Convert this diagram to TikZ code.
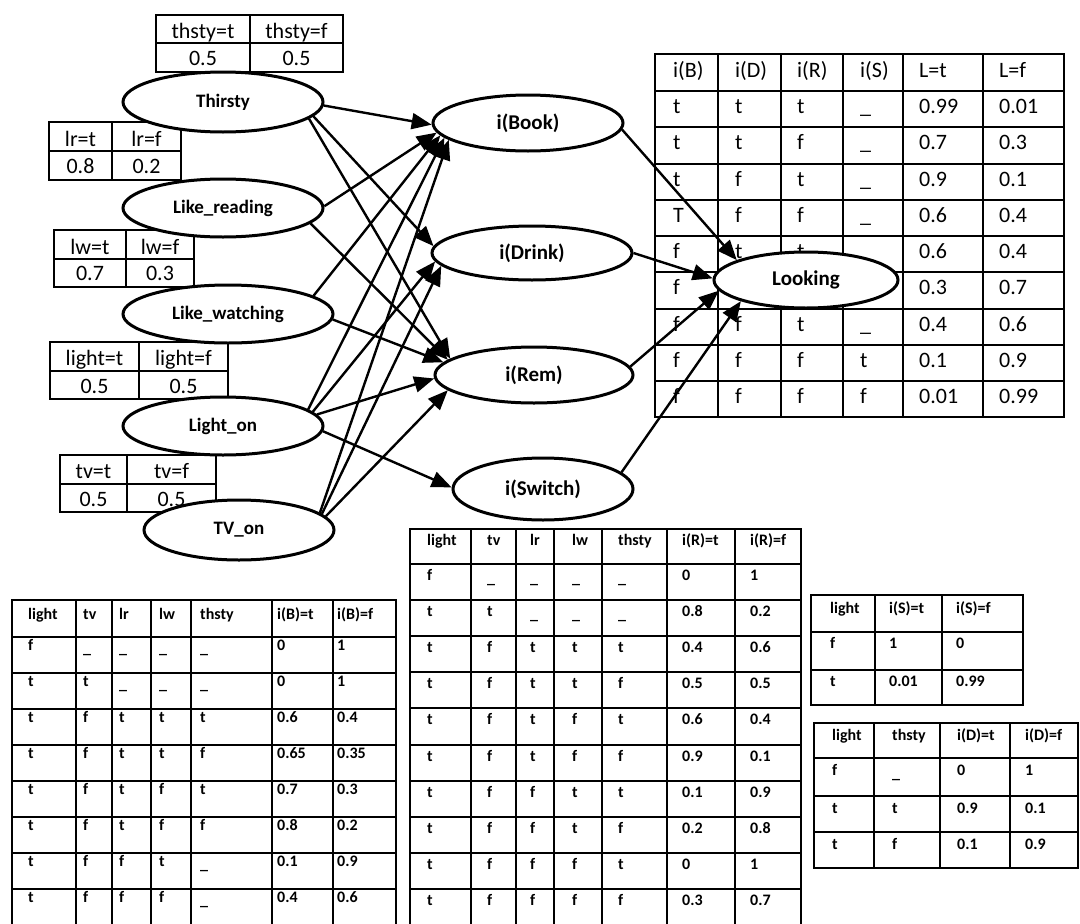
\documentclass[tikz,border=0pt]{standalone}
\usepackage{fontspec}
\setmainfont{Carlito}
\usetikzlibrary{shapes.geometric,arrows.meta}
\newcommand\dsh{\raisebox{-3pt}{\_}}
\newcommand\TR[5]{\foreach \tc [count=\k from 0] in {#5} {\pgfmathsetmacro\tx{{#3}[\k]}\node[#1] (#2-\k) at (\tx,#4) {\tc};}}
\newcommand\gridd[6]{\foreach \gx in {#1} {\draw[gl] (\gx,#5) -- (\gx,#6);}\foreach \gy in {#2} {\draw[gl] (#3,\gy) -- (#4,\gy);}}
\newcommand\LKrow[2]{\TR{ltxt}{lk#1}{673,735,797,860,919,999}{#1}{#2}}
\newcommand\Brow[2]{\TR{ctxt}{b#1}{28,83,119,159,200,277,337}{#1}{#2}}
\newcommand\Rrow[2]{\TR{ctxt}{r#1}{427,487,530,572,618,682,750}{#1}{#2}}
\newcommand\Srow[2]{\TR{ctxt}{s#1}{830,889,956}{#1}{#2}}
\newcommand\Drow[2]{\TR{ctxt}{d#1}{832,892,957,1025}{#1}{#2}}
\tikzset{
  gl/.style={line width=1.4pt, line cap=rect},
  ell/.style={ellipse, draw, line width=3pt, fill=white, inner sep=0pt},
  lefttxt/.style={font=\bfseries\fontsize{19}{22}\selectfont},
  midtxt/.style={font=\bfseries\fontsize{21}{24}\selectfont},
  arr/.style={line width=2.4pt, -{Triangle[length=20pt,width=16pt]}},
  ptxt/.style={font=\fontsize{22}{26}\selectfont, inner sep=0pt, anchor=base},
  ltxt/.style={font=\fontsize{22}{26}\selectfont, inner sep=0pt, anchor=base west},
  ctxt/.style={font=\bfseries\fontsize{16}{19}\selectfont, inner sep=0pt, anchor=base west},
}
\begin{document}
\begin{tikzpicture}[x=1pt,y=-1pt]
\useasboundingbox (0,0) rectangle (1080,924);
\fill[white] (0,0) rectangle (1080,924);
\clip (0,0) rectangle (1080,924);

% ---- prior tables (top left)
\gridd{156,250,343}{15,43,72}{156}{343}{15}{72}
\node[ptxt] (p1a) at (203,38) {thsty=t};
\node[ptxt] (p1b) at (296.5,38) {thsty=f};
\node[ptxt] (p1c) at (203,65) {0.5};
\node[ptxt] (p1d) at (296.5,65) {0.5};

\gridd{49,112,181}{122,151,180}{49}{181}{122}{180}
\node[ptxt] (p2a) at (80.5,146) {lr=t};
\node[ptxt] (p2b) at (146.5,146) {lr=f};
\node[ptxt] (p2c) at (80.5,173) {0.8};
\node[ptxt] (p2d) at (146.5,173) {0.2};

\gridd{54,126,194}{230,259,287}{54}{194}{230}{287}
\node[ptxt] (p3a) at (90,254) {lw=t};
\node[ptxt] (p3b) at (160,254) {lw=f};
\node[ptxt] (p3c) at (90,280) {0.7};
\node[ptxt] (p3d) at (160,280) {0.3};

\gridd{50,139,228}{342,371,399}{50}{228}{342}{399}
\node[ptxt] (p4a) at (94.5,365) {light=t};
\node[ptxt] (p4b) at (183.5,365) {light=f};
\node[ptxt] (p4c) at (94.5,393) {0.5};
\node[ptxt] (p4d) at (183.5,393) {0.5};

\gridd{60,127,216}{455,484,512}{60}{216}{455}{512}
\node[ptxt] (p5a) at (93.5,478) {tv=t};
\node[ptxt] (p5b) at (171.5,478) {tv=f};
\node[ptxt] (p5c) at (93.5,506) {0.5};
\node[ptxt] (p5d) at (171.5,506) {0.5};

% ---- Looking table
\gridd{655,718,781,843,903,983,1064}{54,91,127,164,200,236,272,309,345,381,417}{655}{1064}{54}{417}
\LKrow{77}{i(B),i(D),i(R),i(S),L=t,L=f}
\LKrow{113}{t,t,t,\_,0.99,0.01}
\LKrow{149}{t,t,f,\_,0.7,0.3}
\LKrow{186}{t,f,t,\_,0.9,0.1}
\LKrow{222}{T,f,f,\_,0.6,0.4}
\LKrow{258}{f,t,t,{},0.6,0.4}
\LKrow{294}{f,{},{},{},0.3,0.7}
\LKrow{331}{f,f,t,\_,0.4,0.6}
\LKrow{367}{f,f,f,t,0.1,0.9}
\LKrow{403}{f,f,f,f,0.01,0.99}

% ---- i(B) table
\gridd{12,76,112,151,191,272,333,396}{600,637,673,709,745,781,817,853,889}{12}{396}{600}{924}
\Brow{619}{light,tv,lr,lw,thsty,i(B)=t,i(B)=f}
\Brow{650}{f,\dsh,\dsh,\dsh,\dsh,0,1}
\Brow{686}{t,t,\dsh,\dsh,\dsh,0,1}
\Brow{722}{t,f,t,t,t,0.6,0.4}
\Brow{758}{t,f,t,t,f,0.65,0.35}
\Brow{794}{t,f,t,f,t,0.7,0.3}
\Brow{830}{t,f,t,f,f,0.8,0.2}
\Brow{866}{t,f,f,t,\dsh,0.1,0.9}
\Brow{902}{t,f,f,f,\dsh,0.4,0.6}

% ---- i(R) table
\gridd{410,471,516,554,602,667,735,801}{529,564,600,636,672,708,745,781,817,853,889}{410}{801}{529}{924}
\Rrow{545}{light,tv,lr,lw,thsty,i(R)=t,i(R)=f}
\Rrow{580}{f,\dsh,\dsh,\dsh,\dsh,0,1}
\Rrow{616}{t,t,\dsh,\dsh,\dsh,0.8,0.2}
\Rrow{652}{t,f,t,t,t,0.4,0.6}
\Rrow{688}{t,f,t,t,f,0.5,0.5}
\Rrow{724}{t,f,t,f,t,0.6,0.4}
\Rrow{761}{t,f,t,f,f,0.9,0.1}
\Rrow{797}{t,f,f,t,t,0.1,0.9}
\Rrow{833}{t,f,f,t,f,0.2,0.8}
\Rrow{869}{t,f,f,f,t,0,1}
\Rrow{905}{t,f,f,f,f,0.3,0.7}

% ---- i(S) table
\gridd{811,875,942,1023}{595,632,670,705}{811}{1023}{595}{705}
\Srow{613}{light,i(S)=t,i(S)=f}
\Srow{648}{f,1,0}
\Srow{686}{t,0.01,0.99}

% ---- i(D) table
\gridd{814,874,940,1010,1078}{723,758,796,832,868}{814}{1078}{723}{868}
\Drow{740}{light,thsty,i(D)=t,i(D)=f}
\Drow{775}{f,\dsh,0,1}
\Drow{813}{t,t,0.9,0.1}
\Drow{849}{t,f,0.1,0.9}

% ---- network nodes
\node[ell, lefttxt, minimum width=200pt, minimum height=60pt] (th) at (223,102) {Thirsty};
\node[ell, lefttxt, minimum width=200pt, minimum height=58pt] (lr) at (223,208) {Like\_reading};
\node[ell, lefttxt, minimum width=210pt, minimum height=58pt] (lw) at (228,314) {Like\_watching};
\node[ell, lefttxt, minimum width=200pt, minimum height=58pt] (lo) at (223,426) {Light\_on};
\node[ell, lefttxt, minimum width=190pt, minimum height=60pt] (tv) at (239,530) {TV\_on};
\node[ell, midtxt, minimum width=190pt, minimum height=56pt] (bk) at (528,123) {i(Book)};
\node[ell, midtxt, minimum width=200pt, minimum height=54pt] (dr) at (532,253) {i(Drink)};
\node[ell, midtxt, minimum width=198pt, minimum height=56pt] (rm) at (534,375) {i(Rem)};
\node[ell, midtxt, minimum width=180pt, minimum height=62pt] (sw) at (543,489) {i(Switch)};
\node[ell, midtxt, minimum width=184pt, minimum height=56pt] (lk) at (806,280) {Looking};

% ---- connectors
\draw[arr] (th.-2) -- (bk.181);
\draw[arr] (th.-9) -- (dr.176);
\draw[arr] (th.-11) -- (rm.169);
\draw[arr] (lr.1) -- (bk.186);
\draw[arr] (lr.-10) -- (rm.170);
\draw[arr] (lw.12) -- (bk.188);
\draw[arr] (lw.-3) -- (rm.172);
\draw[arr] (lo.11) -- (bk.190);
\draw[arr] (lo.9) -- (dr.185);
\draw[arr] (lo.7) -- (rm.182);
\draw[arr] (lo.-3) -- (sw.179);
\draw[arr] (tv.12) -- (bk.192);
\draw[arr] (tv.11) -- (dr.188);
\draw[arr] (tv.9) -- (rm.190);
\draw[arr] (bk.-4) -- (lk.164);
\draw[arr] (dr.0) -- (lk.179);
\draw[arr] (rm.5) -- (lk.187);
\draw[arr] (sw.12) -- (lk.198);
\end{tikzpicture}
\end{document}
